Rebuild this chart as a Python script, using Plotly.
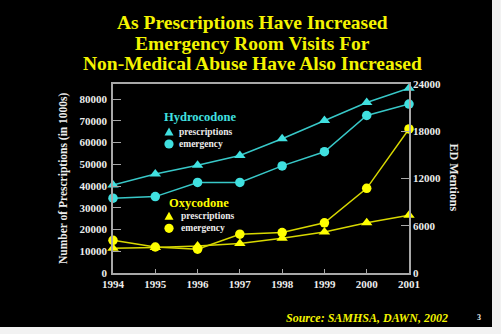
import plotly.graph_objects as go

# Years on the x axis
years = [1994, 1995, 1996, 1997, 1998, 1999, 2000, 2001]

# Prescriptions (in 1000s) - left axis
hydro_rx = [40500, 45500, 49500, 54000, 61700, 70100, 78400, 85000]
oxy_rx = [11400, 11700, 12400, 13600, 16000, 18900, 23100, 26600]

# Emergency department mentions - right axis
hydro_ed = [9500, 9700, 11500, 11500, 13600, 15400, 20000, 21450]
oxy_ed = [4150, 3300, 3020, 4930, 5140, 6370, 10750, 18300]

left_ticks = [0, 10000, 20000, 30000, 40000, 50000, 60000, 70000, 80000]
right_ticks = [0, 6000, 12000, 18000, 24000]

title_lines = [
    "As Prescriptions Have Increased",
    "Emergency Room Visits For",
    "Non-Medical Abuse Have Also Increased",
]

CYAN_LINE = "#38c8c8"
CYAN_MARK = "#40e0e0"
YEL_LINE = "#d8d800"
YEL_MARK = "#ffff00"
TITLE_YEL = "#f4f400"
AXIS_GRAY = "#a8a8a8"
TXT = "#ececec"
SERIF = "Liberation Serif"

W, H = 501, 334
L, R, T, B = 113, 92, 84, 61
PW, PH = W - L - R, H - T - B


def px(x):
    return (x - L) / PW


def py(y):
    return (H - B - y) / PH


fig = go.Figure()

fig.add_trace(go.Scatter(
    x=years, y=hydro_rx, mode="lines+markers", yaxis="y",
    line=dict(color=CYAN_LINE, width=1.5),
    marker=dict(symbol="triangle-up", size=10, color=CYAN_MARK),
    cliponaxis=False, showlegend=False))
fig.add_trace(go.Scatter(
    x=years, y=hydro_ed, mode="lines+markers", yaxis="y2",
    line=dict(color=CYAN_LINE, width=1.5),
    marker=dict(symbol="circle", size=9.5, color=CYAN_MARK),
    cliponaxis=False, showlegend=False))
fig.add_trace(go.Scatter(
    x=years, y=oxy_rx, mode="lines+markers", yaxis="y",
    line=dict(color=YEL_LINE, width=1.5),
    marker=dict(symbol="triangle-up", size=10, color=YEL_MARK),
    cliponaxis=False, showlegend=False))
fig.add_trace(go.Scatter(
    x=years, y=oxy_ed, mode="lines+markers", yaxis="y2",
    line=dict(color=YEL_LINE, width=1.5),
    marker=dict(symbol="circle", size=9.5, color=YEL_MARK),
    cliponaxis=False, showlegend=False))

tickfont = dict(family=SERIF, size=11, color=TXT, weight="bold")

fig.update_layout(
    width=W, height=H,
    margin=dict(l=L, r=R, t=T, b=B, pad=0),
    paper_bgcolor="black", plot_bgcolor="black",
    showlegend=False,
    xaxis=dict(
        range=[1994, 2001], tickvals=years, ticktext=[str(y) for y in years],
        ticks="inside", ticklen=4, tickcolor=AXIS_GRAY, tickwidth=1,
        showline=True, linecolor=AXIS_GRAY, linewidth=1.5, mirror=True,
        showgrid=False, zeroline=False, tickfont=tickfont,
    ),
    yaxis=dict(
        range=[0, 86900], tickvals=left_ticks,
        ticktext=[str(v) for v in left_ticks],
        ticks="inside", ticklen=8, tickcolor=AXIS_GRAY, tickwidth=1,
        showline=True, linecolor=AXIS_GRAY, linewidth=1.5,
        showgrid=False, zeroline=False, tickfont=tickfont,
        ticklabelstandoff=2,
    ),
    yaxis2=dict(
        range=[0, 24000], tickvals=right_ticks,
        ticktext=[str(v) for v in right_ticks],
        overlaying="y", side="right",
        ticks="inside", ticklen=8, tickcolor=AXIS_GRAY, tickwidth=1,
        showline=True, linecolor=AXIS_GRAY, linewidth=1.5,
        showgrid=False, zeroline=False, tickfont=tickfont,
    ),
)

ann = []
shapes = []
# Title lines
for text, yc in zip(title_lines, [22.3, 43.3, 63.3]):
    ann.append(dict(text=f"<b>{text}</b>", x=px(252), y=py(yc),
                    xref="paper", yref="paper", xanchor="center", yanchor="middle",
                    showarrow=False, font=dict(family=SERIF, size=19.5, color=TITLE_YEL)))

# Axis titles
ann.append(dict(text="<b>Number of Prescriptions (in 1000s)</b>", x=px(63), y=py(178),
                xref="paper", yref="paper", xanchor="center", yanchor="middle",
                textangle=-90, showarrow=False,
                font=dict(family=SERIF, size=11.5, color=TXT)))
ann.append(dict(text="<b>ED Mentions</b>", x=px(454), y=py(177.5),
                xref="paper", yref="paper", xanchor="center", yanchor="middle",
                textangle=90, showarrow=False,
                font=dict(family=SERIF, size=12, color=TXT)))

# Key: drug names, symbols and labels
key = [
    ("Hydrocodone", CYAN_MARK, 161.7, 117.0, 169, 131.7, 144.0, 177),
    ("Oxycodone", YEL_MARK, 166.7, 202.7, 169, 216.0, 228.3, 179),
]
for name, col, nx, ny, sx, ty, cy, lx in key:
    ann.append(dict(text=f"<b>{name}</b>", x=px(nx), y=py(ny),
                    xref="paper", yref="paper", xanchor="left", yanchor="middle",
                    showarrow=False, font=dict(family=SERIF, size=12.5, color=col)))
    # triangle symbol
    tri = (f"M {px(sx - 4.5)} {py(ty + 3.8)} L {px(sx + 4.5)} {py(ty + 3.8)} "
           f"L {px(sx)} {py(ty - 4.2)} Z")
    shapes.append(dict(type="path", path=tri, xref="paper", yref="paper",
                       fillcolor=col, line_width=0, layer="above"))
    # circle symbol
    shapes.append(dict(type="circle", xref="paper", yref="paper",
                       x0=px(sx - 4.6), x1=px(sx + 4.6),
                       y0=py(cy + 4.6), y1=py(cy - 4.6),
                       fillcolor=col, line_width=0, layer="above"))
    ann.append(dict(text="<b>prescriptions</b>", x=px(lx), y=py(ty),
                    xref="paper", yref="paper", xanchor="left", yanchor="middle",
                    showarrow=False, font=dict(family=SERIF, size=9.5, color=TXT)))
    ann.append(dict(text="<b>emergency</b>", x=px(lx), y=py(cy),
                    xref="paper", yref="paper", xanchor="left", yanchor="middle",
                    showarrow=False, font=dict(family=SERIF, size=9.5, color=TXT)))

# Source line and page number
ann.append(dict(text="<b><i>Source: SAMHSA, DAWN, 2002</i></b>", x=px(450), y=py(318.3),
                xref="paper", yref="paper", xanchor="right", yanchor="middle",
                showarrow=False, font=dict(family=SERIF, size=12, color=TITLE_YEL)))
ann.append(dict(text="<b>3</b>", x=px(479), y=py(317),
                xref="paper", yref="paper", xanchor="center", yanchor="middle",
                showarrow=False, font=dict(family=SERIF, size=8, color=TXT)))

# Light page edge at the right and bottom
shapes.append(dict(type="rect", xref="paper", yref="paper",
                   x0=px(492), x1=px(W + 5), y0=py(H + 5), y1=py(-5),
                   fillcolor="#f2f2f2", line_width=0, layer="above"))
shapes.append(dict(type="rect", xref="paper", yref="paper",
                   x0=px(-5), x1=px(W + 5), y0=py(H + 5), y1=py(327),
                   fillcolor="#f2f2f2", line_width=0, layer="above"))

fig.update_layout(annotations=ann, shapes=shapes)

fig.write_html("out.html")
